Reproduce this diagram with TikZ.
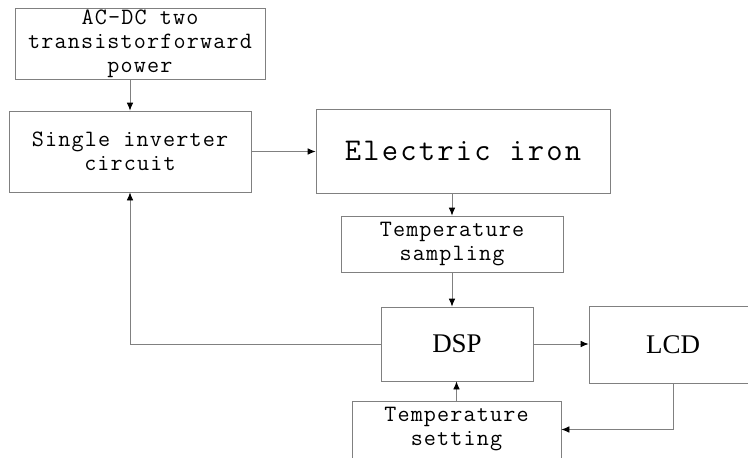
\documentclass[tikz,border=0pt]{standalone}
\usepackage{fontspec}
\usepackage{tikz}
\usetikzlibrary{positioning,arrows.meta}
\newfontfamily\timesfont{Liberation Serif}
\newfontfamily\boxfont{Latin Modern Mono}[LetterSpace=5]
\newfontfamily\ironfont{Latin Modern Mono}[LetterSpace=7]

\begin{document}
\begin{tikzpicture}[
  box/.style={draw=gray, line width=0.7pt, align=center, inner sep=0pt, font=\boxfont\fontsize{20}{20.5}\selectfont},
  big/.style={box, font=\ironfont\fontsize{27}{28}\selectfont},
  chip/.style={box, font=\timesfont\fontsize{23}{24}\selectfont},
  arr/.style={-{Latex[length=2.4mm, width=2mm, color=black]}, draw=gray, line width=0.7pt}
]
\useasboundingbox (0,0) rectangle (22.44,-13.71);
\node[box, minimum width=7.5cm, minimum height=2.13cm] (acdc) at (4.2,-1.305) {AC-DC two\\transistorforward\\power};
\node[box, minimum width=7.26cm, minimum height=2.43cm] (inv) at (3.9,-4.545) {Single inverter\\circuit};
\node[big, minimum width=8.82cm, minimum height=2.52cm] (iron) at (13.89,-4.53) {Electric iron};
\node[box, minimum width=6.66cm, minimum height=1.68cm] (samp) at (13.56,-7.32) {Temperature\\sampling};
\node[chip, minimum width=4.56cm, minimum height=2.22cm] (dsp) at (13.71,-10.32) {DSP};
\node[chip, minimum width=5.04cm, minimum height=2.31cm] (lcd) at (20.19,-10.335) {LCD};
\node[box, minimum width=6.27cm, minimum height=1.71cm] (set) at (13.695,-12.885) {Temperature\\setting};
\draw[arr] (inv.north |- acdc.south) -- (inv.north);
\draw[arr] (inv.east) -- (inv.east -| iron.west);
\draw[arr] (samp.north |- iron.south) -- (samp.north);
\draw[arr] (samp.south) -- (samp.south |- dsp.north);
\draw[arr] (set.north) -- (set.north |- dsp.south);
\draw[arr] (dsp.east) -- (dsp.east -| lcd.west);
\draw[arr] (lcd.south) |- (set.east);
\draw[arr] (dsp.west) -| (inv.south);
\end{tikzpicture}
\end{document}
